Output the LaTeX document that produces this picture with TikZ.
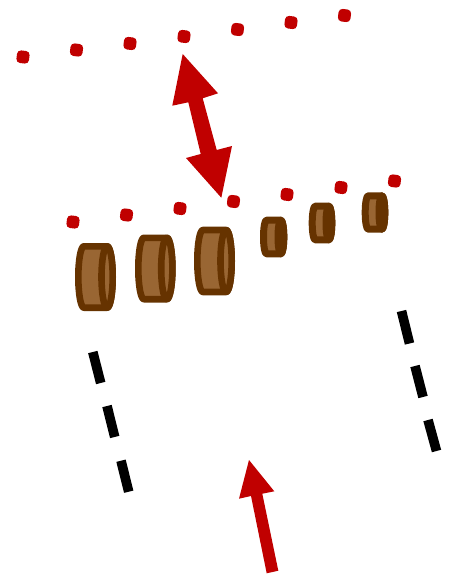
\documentclass[tikz,border=0pt]{standalone}
\definecolor{arrred}{HTML}{C00000}
\definecolor{cylfill}{HTML}{996633}
\definecolor{cylline}{HTML}{663300}
\tikzset{
  dotmark/.style={fill=arrred,draw=none,minimum size=12.6pt,inner sep=0pt,rounded corners=3.8pt,rotate=-7,rectangle},
  cylbody/.style={draw=cylline,fill=cylfill,line join=round},
  dashbar/.style={draw=black,line width=9.6pt},
  redarrow/.style={fill=arrred,draw=none}
}
% \cylshape{outer left}{outer top}{outer right}{outer bottom}{x radius}{line width}
\newcommand{\cylshape}[6]{%
  \pgfmathsetmacro{\xl}{#1+#6/2}\pgfmathsetmacro{\xr}{#3-#6/2}%
  \pgfmathsetmacro{\yt}{#2+#6/2}\pgfmathsetmacro{\yb}{#4-#6/2}%
  \pgfmathsetmacro{\ry}{(\yb-\yt)/2}\pgfmathsetmacro{\ym}{(\yt+\yb)/2}%
  \pgfmathsetmacro{\kx}{0.5523*#5}\pgfmathsetmacro{\ky}{0.5523*\ry}%
  \pgfmathsetmacro{\xc}{\xr-#5}\pgfmathsetmacro{\xd}{\xl+#5}%
  \draw[cylbody,line width=#6pt] (\xd,\yt) -- (\xc,\yt)
    .. controls (\xc+\kx,\yt) and (\xr,\ym-\ky) .. (\xr,\ym)
    .. controls (\xr,\ym+\ky) and (\xc+\kx,\yb) .. (\xc,\yb)
    -- (\xd,\yb)
    .. controls (\xd-\kx,\yb) and (\xl,\ym+\ky) .. (\xl,\ym)
    .. controls (\xl,\ym-\ky) and (\xd-\kx,\yt) .. (\xd,\yt) -- cycle;
  \draw[cylbody,line width=#6pt] (\xc,\yt)
    .. controls (\xc+\kx,\yt) and (\xr,\ym-\ky) .. (\xr,\ym)
    .. controls (\xr,\ym+\ky) and (\xc+\kx,\yb) .. (\xc,\yb)
    .. controls (\xc-\kx,\yb) and (\xc-#5,\ym+\ky) .. (\xc-#5,\ym)
    .. controls (\xc-#5,\ym-\ky) and (\xc-\kx,\yt) .. (\xc,\yt) -- cycle;
}
\begin{document}
\begin{tikzpicture}[x=1pt,y=-1pt]
\useasboundingbox (0,0) rectangle (450,575);
\fill[white] (0,0) rectangle (450,575);
% upper row of dots
\foreach \n/\x/\y in {a1/23/57,a2/76.5/50,a3/130/43.5,a4/184/36.5,a5/237.5/29.5,a6/291/22.5,a7/344.5/15.5}
  \node[dotmark] (\n) at (\x,\y) {};
% lower row of dots
\foreach \n/\x/\y in {b1/73/222,b2/126.5/215,b3/180/208.5,b4/233.5/201.5,b5/287/194.5,b6/341/187.5,b7/394.5/181}
  \node[dotmark] (\n) at (\x,\y) {};
% cylinders
\cylshape{75}{243}{116}{311}{5.6}{6.6}
\cylshape{135}{234.5}{175.7}{302.5}{5.6}{6.6}
\cylshape{194}{226.7}{235}{295.3}{5.6}{6.6}
\cylshape{260}{216.7}{287.3}{257.3}{2.9}{7}
\cylshape{308.7}{202.7}{335.3}{243.3}{2.9}{7}
\cylshape{361.7}{192.3}{388.3}{232.7}{2.9}{7}
% double arrow
\fill[redarrow] (182.7,54) -- (218,93.3) -- (202.7,98.3) -- (216.7,150) -- (232,146) -- (221.3,197.7)
  -- (186,158) -- (200.7,154) -- (188.3,102.3) -- (172.3,105.7) -- cycle;
% lower arrow
\fill[redarrow] (249,460) -- (274.3,491.3) -- (262.3,493.7) -- (278.3,570.7) -- (266.7,573.3)
  -- (251,496) -- (239,498.7) -- cycle;
% dashed lines
\foreach \xa/\ya/\xb/\yb in {92.8/352/100.7/383,107/406/114.7/437,121/460.7/128.7/491.7,
  401.5/311/409.5/343.5,415/366/423/397,428/420/436.5/451}
  \draw[dashbar] (\xa,\ya) -- (\xb,\yb);
\end{tikzpicture}
\end{document}
